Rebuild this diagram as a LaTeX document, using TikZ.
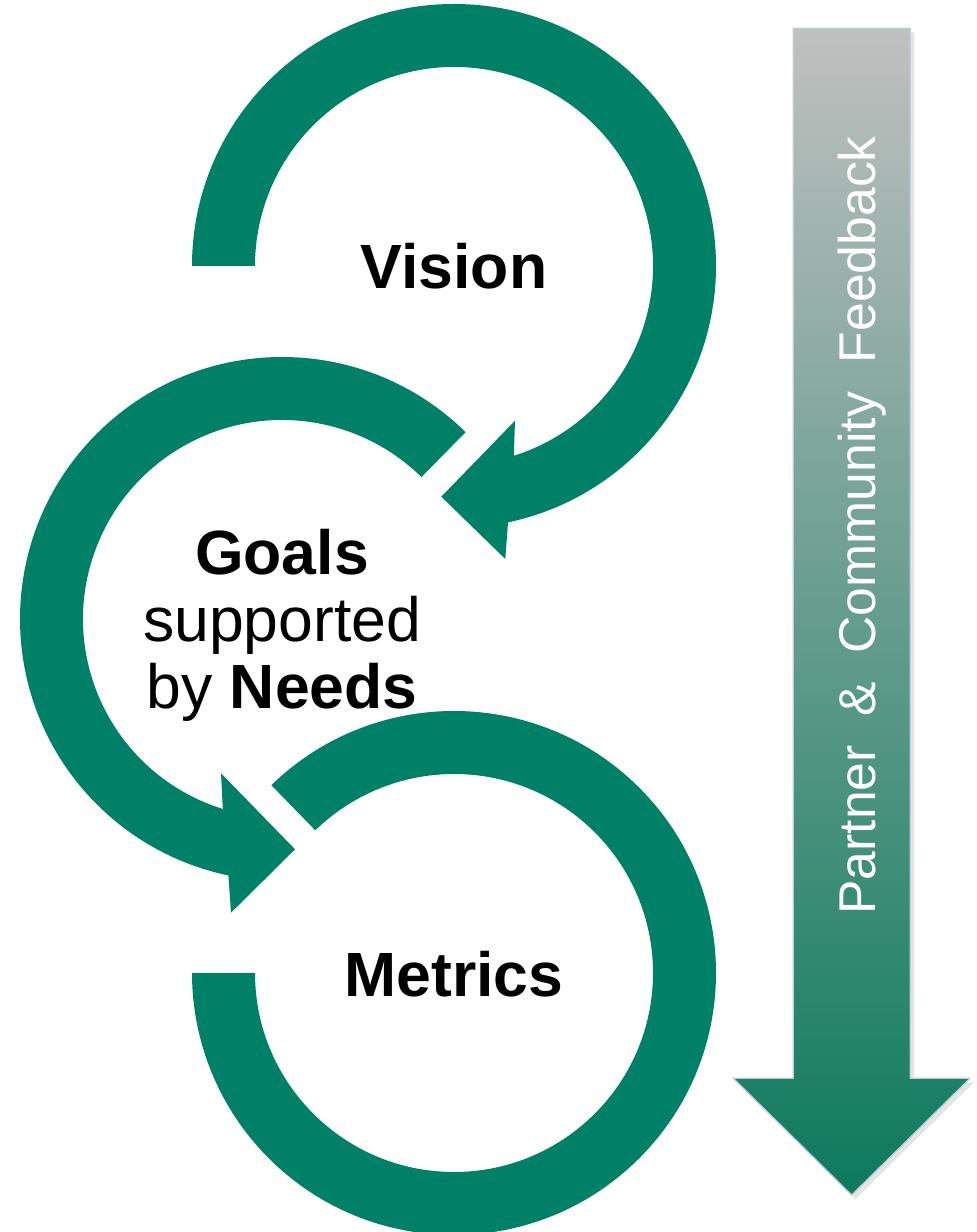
\documentclass[tikz,border=0pt]{standalone}
\usepackage{fontspec}
\setmainfont{Liberation Sans}
\definecolor{ringgreen}{RGB}{0,128,103}
\definecolor{fbtop}{RGB}{192,192,192}
\definecolor{fbmid}{RGB}{136,165,154}
\definecolor{fbbot}{RGB}{12,122,92}
\definecolor{fbedge}{RGB}{190,204,222}
\begin{document}
\begin{tikzpicture}[x=1pt,y=1pt,
  ring/.style={fill=ringgreen, draw=none},
  regtext/.style={font=\fontsize{62.5}{70}\selectfont, inner sep=0pt, anchor=base, text=black},
  boldtext/.style={font=\fontsize{62.5}{70}\selectfont\bfseries, inner sep=0pt, anchor=base, text=black},
  fbtext/.style={font=\fontsize{51.7}{60}\selectfont, inner sep=0pt, text=white},
]
\useasboundingbox (0,0) rectangle (977,1232);
% centres of the three rings
\coordinate (c1) at (454,966);
\coordinate (c2) at (282,613);
\coordinate (c3) at (454,259);
% top ring (Vision)
\fill[ring] ([shift={(c1)}]180:262) arc[start angle=180,end angle=-78.1,radius=262]
  -- (505.3,673) -- (441.3,735.3) -- (515,811.3)
  -- ([shift={(c1)}]-72.5:199) arc[start angle=-72.5,end angle=180,radius=199] -- cycle;
% middle ring (Goals)
\fill[ring] ([shift={(c2)}]45.5:262) arc[start angle=45.5,end angle=258.2,radius=262]
  -- (231,319.3) -- (295,382.7) -- (221,458.7)
  -- ([shift={(c2)}]252.7:199) arc[start angle=252.7,end angle=45.5,radius=199] -- cycle;
% bottom ring (Metrics)
\fill[ring] ([shift={(c3)}]134.2:262) arc[start angle=134.2,end angle=-180,radius=262]
  -- ([shift={(c3)}]180:199) arc[start angle=-180,end angle=134.2,radius=199] -- cycle;
% texts
\node[boldtext] (vision) at (454,943) {Vision};
\node[boldtext] (goals) at (282,657) {Goals};
\node[regtext] (supported) at (282,590) {supported};
\node[regtext] (byneeds) at (282,523) {by \textbf{Needs}};
\node[boldtext] (metrics) at (454,235) {Metrics};
% feedback arrow shadow
\fill[black, opacity=0.10] (797.3,1199.7) -- (914.3,1199.7) -- (914.3,149.7) -- (974,149.7)
  -- (855.7,33) -- (737.3,149.7) -- (797.3,149.7) -- cycle;
% feedback arrow
\shadedraw[top color=fbtop, middle color=fbmid, bottom color=fbbot, draw=fbedge, line width=1.2pt]
  (793.3,1203.7) -- (910.3,1203.7) -- (910.3,153.7) -- (970,153.7)
  -- (851.7,37) -- (733.3,153.7) -- (793.3,153.7) -- cycle;
\node[fbtext, rotate=90, anchor=base west] (feedback) at (875.5,317)
  {Partner\ \ \&\ \ Community\ \ Feedback};
\end{tikzpicture}
\end{document}
